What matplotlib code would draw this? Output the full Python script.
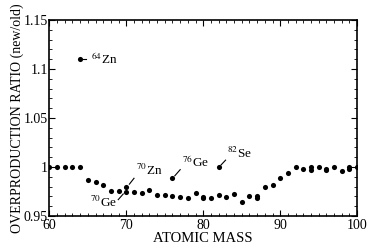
import numpy as np
import matplotlib.pyplot as plt
from matplotlib.ticker import MultipleLocator, FormatStrFormatter

plt.rcParams['font.family'] = ['Liberation Serif', 'DejaVu Serif']
plt.rcParams['mathtext.fontset'] = 'stix'

mass = [60, 61, 62, 63, 64, 64, 65, 66, 67, 68, 69, 70, 70, 71, 72, 73, 74, 75,
        76, 76, 77, 78, 79, 80, 80, 81, 82, 82, 83, 84, 85, 86, 87, 87, 88, 89,
        90, 91, 92, 93, 94, 94, 95, 96, 96, 97, 98, 99, 99, 100]
ratio = [1.000, 1.000, 1.000, 1.000, 1.000, 1.110, 0.987, 0.985, 0.982, 0.976,
         0.976, 0.980, 0.975, 0.974, 0.973, 0.977, 0.9715, 0.9715,
         0.970, 0.989, 0.969, 0.968, 0.973, 0.969, 0.968, 0.968, 0.9715, 1.000,
         0.969, 0.972, 0.964, 0.970, 0.970, 0.968, 0.9795, 0.982,
         0.989, 0.994, 1.000, 0.998, 1.000, 0.997, 1.000, 0.998, 0.9966,
         1.000, 0.996, 1.000, 0.9976, 1.000]

# labelled isotopes: text, point, line end, text position
labels = [r'$^{64}$Zn', r'$^{70}$Zn', r'$^{70}$Ge', r'$^{76}$Ge', r'$^{82}$Se']
label_pts = [(64.2, 1.110), (70.4, 0.9825), (69.6, 0.9725), (76.3, 0.991), (82.3, 1.002)]
line_ends = [(64.7, 1.110), (71.0, 0.9885), (68.95, 0.9667), (77.0, 0.9973), (82.9, 1.007)]
text_pos = [(65.4, 1.110), (71.2, 0.9883), (65.3, 0.9565), (77.2, 0.9968), (83.1, 1.0063)]

fig = plt.figure(figsize=(3.74, 2.5), dpi=100)
ax = fig.add_axes([0.132, 0.136, 0.823, 0.784])

ax.plot(mass, ratio, 'o', color='black', markersize=3.7, markeredgewidth=0)

for lab, p, e, t in zip(labels, label_pts, line_ends, text_pos):
    ax.plot([p[0], e[0]], [p[1], e[1]], color='black', lw=0.8)
    va = 'center' if lab == labels[0] else 'bottom'
    ax.text(t[0], t[1], lab, fontsize=9.5, ha='left', va=va)

ax.set_xlim(60, 100)
ax.set_ylim(0.95, 1.15)
ax.xaxis.set_major_locator(MultipleLocator(10))
ax.xaxis.set_minor_locator(MultipleLocator(1))
ax.yaxis.set_major_locator(MultipleLocator(0.05))
ax.yaxis.set_minor_locator(MultipleLocator(0.01))
ax.yaxis.set_major_formatter(FormatStrFormatter('%g'))
ax.tick_params(which='both', direction='in', top=True, right=True, labelsize=10)
ax.tick_params(axis='y', pad=1)
ax.tick_params(axis='x', pad=2)
ax.tick_params(which='major', length=4, width=0.8)
ax.tick_params(which='minor', length=2, width=0.6)
for s in ax.spines.values():
    s.set_linewidth(1.2)

ax.set_xlabel('ATOMIC MASS', fontsize=10.5, labelpad=0)
ax.set_ylabel('OVERPRODUCTION RATIO (new/old)', fontsize=10, labelpad=0)

fig.savefig('out.png', dpi=100)
